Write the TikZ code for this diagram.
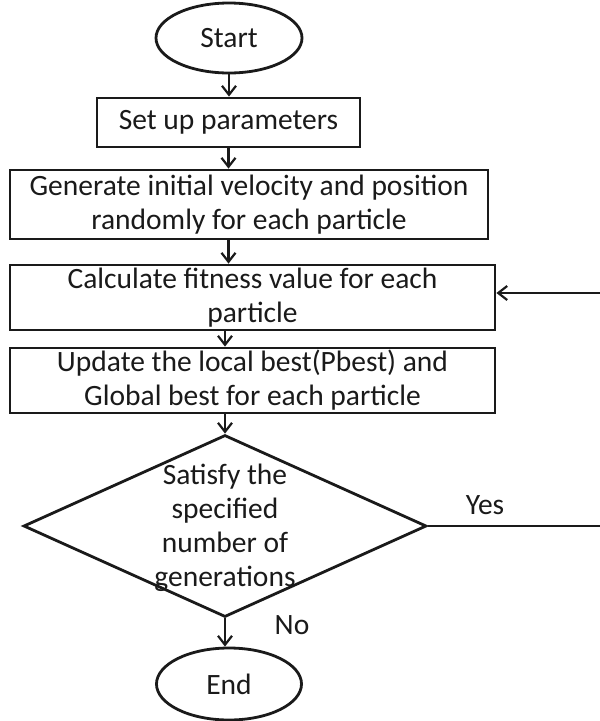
\documentclass[tikz,border=0pt]{standalone}
\usepackage{fontspec}
\setmainfont{Carlito}
\usetikzlibrary{shapes.geometric,arrows.meta}
\definecolor{ink}{HTML}{1A1A1A}
\tikzset{
  every node/.style={font=\fontsize{29.5}{34}\selectfont, text=ink},
  box/.style={draw=ink, line width=2.8pt, rectangle, inner sep=0pt, align=center},
  term/.style={draw=ink, line width=2.8pt, ellipse, inner sep=0pt, minimum width=146pt, minimum height=70pt},
  dec/.style={draw=ink, line width=2.8pt, diamond, inner sep=0pt, minimum width=403pt, minimum height=182pt},
  arr/.style={draw=ink, line width=2.8pt, -{Straight Barb[length=9pt,width=14pt,line width=2.2pt]}},
  ln/.style={draw=ink, line width=2.8pt}
}
\begin{document}
\begin{tikzpicture}[x=1pt,y=-1pt]
\useasboundingbox (0,0) rectangle (600,721);
\node[term] (start) at (229,38) {\raisebox{-4pt}{Start}};
\node[box, minimum width=263pt, minimum height=49pt] (b1) at (228.5,122.5) {Set up parameters};
\node[box, minimum width=478pt, minimum height=69pt] (b2) at (249,204.5) {Generate initial velocity and position\\randomly for each particle};
\node[box, minimum width=485pt, minimum height=65pt] (b3) at (252.5,297.5) {Calculate fitness value for each\\particle};
\node[box, minimum width=485pt, minimum height=65pt] (b4) at (252.5,380.5) {Update the local best(Pbest) and\\Global best for each particle};
\node[dec] (dia) at (225,526) {};
\node[align=center, inner sep=0pt] (diatext) at (225,528) {Satisfy the\\specified\\number of\\generations};
\node[term, minimum width=145pt, minimum height=72pt] (end) at (229,684) {End};
\node[inner sep=0pt] (yes) at (485,505) {Yes};
\node[inner sep=0pt] (no) at (292,625) {No};
\coordinate (yesend) at (600,526);
\coordinate (fbstart) at (600,293);
\draw[arr] (start.south) -- (start.south |- b1.north);
\draw[arr] (b1.south) -- (b1.south |- b2.north);
\draw[arr] (b2.south -| b1.south) -- (b1.south |- b3.north);
\draw[arr] (b3.south -| dia.north) -- (b4.north -| dia.north);
\draw[arr] (b4.south -| dia.north) -- (dia.north);
\draw[arr] (dia.south) -- (dia.south |- end.north);
\draw[ln] (dia.east) -- (yesend);
\draw[arr] (fbstart) -- (fbstart -| b3.east);
\end{tikzpicture}
\end{document}
